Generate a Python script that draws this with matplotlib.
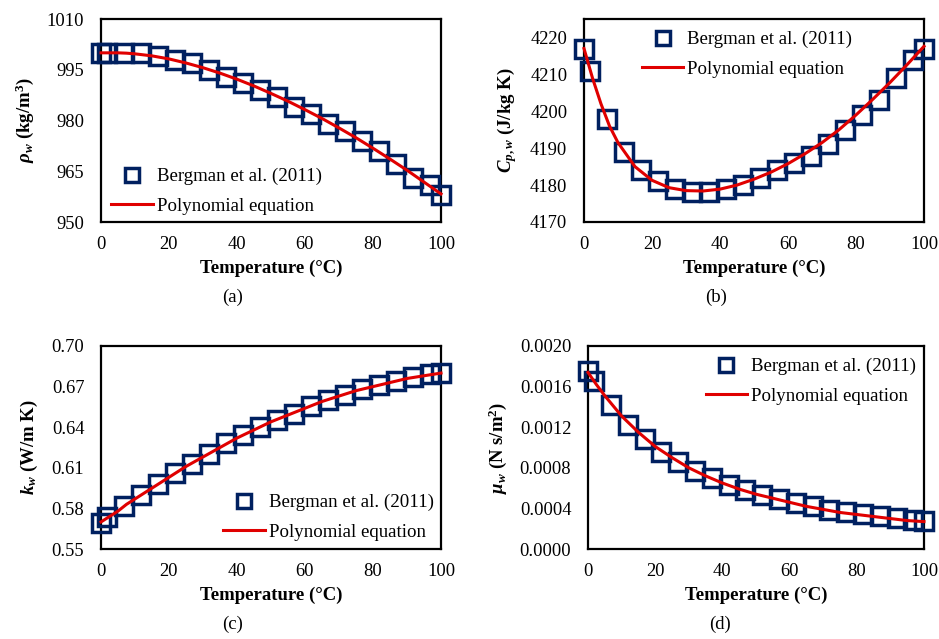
import matplotlib
matplotlib.use("Agg")
import matplotlib.pyplot as plt
from matplotlib.ticker import FormatStrFormatter

plt.rcParams["font.family"] = "Liberation Serif"
plt.rcParams["mathtext.fontset"] = "custom"
plt.rcParams["mathtext.rm"] = "Liberation Serif:bold"
plt.rcParams["mathtext.it"] = "Liberation Serif:bold:italic"
plt.rcParams["mathtext.bf"] = "Liberation Serif:bold"

# Bergman et al. (2011), saturated water, converted to deg C
T_data = [0, 1.85, 6.85, 11.85, 16.85, 21.85, 26.85, 31.85, 36.85, 41.85, 46.85,
          51.85, 56.85, 61.85, 66.85, 71.85, 76.85, 81.85, 86.85, 91.85, 96.85, 100]
rho_data = [1000, 1000, 1000, 1000, 999, 998, 997, 995, 993, 991, 989,
            987, 984, 982, 979, 977, 974, 971, 967, 963, 961, 958]
cp_data = [4217, 4211, 4198, 4189, 4184, 4181, 4179, 4178, 4178, 4179, 4180,
           4182, 4184, 4186, 4188, 4191, 4195, 4199, 4203, 4209, 4214, 4217]
k_data = [0.569, 0.574, 0.582, 0.590, 0.598, 0.606, 0.613, 0.620, 0.628, 0.634, 0.640,
          0.645, 0.650, 0.656, 0.660, 0.664, 0.668, 0.671, 0.674, 0.677, 0.679, 0.680]
mu_data = [0.001750, 0.001652, 0.001422, 0.001225, 0.001080, 0.000959, 0.000855,
           0.000769, 0.000695, 0.000631, 0.000577, 0.000528, 0.000489, 0.000453,
           0.000420, 0.000389, 0.000365, 0.000343, 0.000324, 0.000306, 0.000289, 0.000279]

# polynomial curves
T_fit = [0, 2.5, 5, 7.5, 10, 15, 20, 25, 30, 35, 40, 45, 50,
         55, 60, 65, 70, 75, 80, 85, 90, 95, 100]
rho_fit = [1000.0, 1000.0, 1000.0, 999.9, 999.7, 999.1, 998.2, 997.0, 995.6, 994.0,
           992.2, 990.2, 988.0, 985.7, 983.2, 980.6, 977.8, 974.9, 971.8, 968.6,
           965.3, 961.8, 958.3]
cp_fit = [4217.0, 4209.0, 4202.0, 4196.0, 4191.5, 4185.0, 4181.3, 4179.3, 4178.5,
          4178.4, 4178.9, 4180.0, 4181.6, 4183.5, 4185.8, 4188.5, 4191.5, 4195.0,
          4199.0, 4203.3, 4207.8, 4212.6, 4217.6]
k_fit = [0.570, 0.574, 0.578, 0.583, 0.587, 0.595, 0.603, 0.611, 0.618, 0.625,
         0.632, 0.638, 0.644, 0.649, 0.654, 0.659, 0.663, 0.667, 0.670, 0.673,
         0.676, 0.678, 0.680]
mu_fit = [0.00174, 0.00162, 0.00151, 0.00141, 0.00131, 0.00115, 0.00101, 0.00090,
          0.00080, 0.00072, 0.00065, 0.00059, 0.00054, 0.00050, 0.00046, 0.00042,
          0.00039, 0.00036, 0.00034, 0.00032, 0.00030, 0.00028, 0.00027]

NAVY = "#002060"
RED = "#e00000"
W, H = 939, 639

panels = [
    # data, fit, rect(px: left, top, right, bottom), ylim, yticks, fmt, ylabel, tag, legend loc, anchor
    (rho_data, rho_fit, (101, 19, 441, 222), (950, 1010), [950, 965, 980, 995, 1010], "%d",
     r"$\rho_w$ (kg/m$^3$)", "(a)", "lower left", (0.03, 0.035)),
    (cp_data, cp_fit, (584, 19, 924, 222), (4170, 4225), [4170, 4180, 4190, 4200, 4210, 4220], "%d",
     r"$C_{p,w}$ (J/kg K)", "(b)", "upper left", (0.17, 0.94)),
    (k_data, k_fit, (101, 346, 441, 549), (0.55, 0.70), [0.55, 0.58, 0.61, 0.64, 0.67, 0.70], "%.2f",
     r"$k_w$ (W/m K)", "(c)", "lower left", (0.36, 0.04)),
    (mu_data, mu_fit, (588, 346, 924, 549), (0, 0.002), [0, 0.0004, 0.0008, 0.0012, 0.0016, 0.0020], "%.4f",
     r"$\mu_w$ (N s/m$^2$)", "(d)", "upper left", (0.35, 0.94)),
]

fig = plt.figure(figsize=(W / 100, H / 100), dpi=100)

for ydata, yfit, (l, t, r, b), ylim, yticks, fmt, ylabel, tag, loc, anchor in panels:
    ax = fig.add_axes([l / W, 1 - b / H, (r - l) / W, (b - t) / H])
    ax.plot(T_data, ydata, "s", ms=13, mfc="none", mec=NAVY, mew=2.5,
            clip_on=False, zorder=3, label="Bergman et al. (2011)")
    ax.plot(T_fit, yfit, "-", color=RED, lw=2.2, zorder=4, clip_on=False,
            label="Polynomial equation")
    ax.set_xlim(0, 100)
    ax.set_ylim(*ylim)
    ax.set_xticks(range(0, 101, 20))
    ax.set_yticks(yticks)
    ax.yaxis.set_major_formatter(FormatStrFormatter(fmt))
    ax.tick_params(length=0, labelsize=13.3, pad=10)
    ax.tick_params(axis="y", pad=12)
    for s in ax.spines.values():
        s.set_linewidth(1.6)
    ax.set_xlabel("Temperature (°C)", fontsize=13.5, fontweight="bold", labelpad=5)
    ax.set_ylabel(ylabel, fontsize=13.5, fontweight="bold", labelpad=8)
    ax.legend(loc=loc, bbox_to_anchor=anchor, frameon=False, fontsize=13.6,
              handlelength=2.2, handletextpad=0.2, labelspacing=0.65,
              borderpad=0, borderaxespad=0, markerscale=0.8)
    fig.text((l + 132) / W, 1 - (b + 75) / H, tag, fontsize=13.5, ha="center", va="center")

fig.savefig("out.png", dpi=100)
